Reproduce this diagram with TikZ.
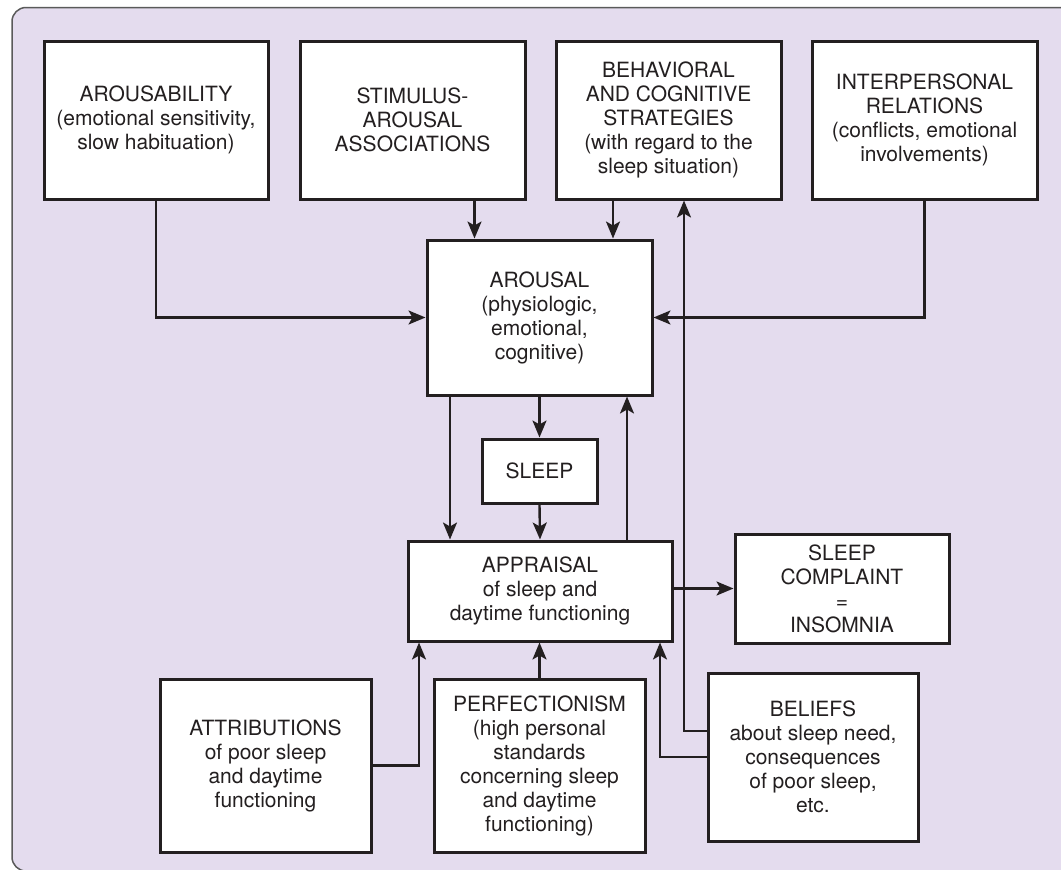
\documentclass[tikz,border=0pt]{standalone}
\usepackage{fontspec}
\setmainfont{TeX Gyre Heros}
\usetikzlibrary{arrows.meta}
\definecolor{bgc}{HTML}{E4DCEE}
\definecolor{ink}{HTML}{231F20}
\definecolor{frame}{HTML}{5A5A5A}
\tikzset{
  box/.style={draw=ink, fill=white, line width=3pt, align=center, inner sep=0pt,
    text=ink, font=\fontsize{21}{24}\selectfont},
  conn/.style={draw=ink, line width=2.4pt, -{Stealth[length=17pt,width=14pt,inset=4pt]}},
}
\begin{document}
\begin{tikzpicture}[x=1pt,y=-1pt]
\useasboundingbox (0,0) rectangle (1061,870);
\clip (0,0) rectangle (1061,870);
\filldraw[fill=bgc, draw=frame, line width=1.5pt, rounded corners=14pt] (12,7.5) rectangle (1090,871);

% top row
\node[box, minimum width=224pt, minimum height=158pt] (arousability) at (156,120)
  {AROUSABILITY\\(emotional sensitivity,\\slow habituation)};
\node[box, minimum width=225pt, minimum height=158pt] (stimulus) at (412.5,120)
  {STIMULUS-\\AROUSAL\\ASSOCIATIONS};
\node[box, minimum width=225pt, minimum height=158pt] (behavioral) at (668.5,120)
  {BEHAVIORAL\\AND COGNITIVE\\STRATEGIES\\(with regard to the\\sleep situation)};
\node[box, minimum width=225pt, minimum height=158pt] (interpersonal) at (924.5,120)
  {INTERPERSONAL\\RELATIONS\\(conflicts, emotional\\involvements)};

% middle
\node[box, minimum width=225pt, minimum height=155pt] (arousal) at (539.5,317.5)
  {AROUSAL\\(physiologic,\\emotional,\\cognitive)};
\node[box, minimum width=115pt, minimum height=64pt] (sleep) at (539.5,471)
  {SLEEP};
\node[box, minimum width=264pt, minimum height=100pt] (appraisal) at (540,591)
  {APPRAISAL\\of sleep and\\daytime functioning};
\node[box, minimum width=214pt, minimum height=109pt] (complaint) at (842,588.5)
  {SLEEP\\COMPLAINT\\=\\INSOMNIA};

% bottom row
\node[box, minimum width=211pt, minimum height=173pt] (attributions) at (265.5,765.5)
  {ATTRIBUTIONS\\of poor sleep\\and daytime\\functioning};
\node[box, minimum width=211pt, minimum height=173pt] (perfectionism) at (539.5,765.5)
  {PERFECTIONISM\\(high personal\\standards\\concerning sleep\\and daytime\\functioning)};
\node[box, minimum width=210pt, minimum height=168pt] (beliefs) at (813,757)
  {BELIEFS\\about sleep need,\\consequences\\of poor sleep,\\etc.};

% connectors
\draw[conn] (arousability.south) |- (arousal.west);
\draw[conn] (interpersonal.south) |- (arousal.east);
\draw[conn] (474.5,0 |- stimulus.south) -- (474.5,0 |- arousal.north);
\draw[conn] (613,0 |- behavioral.south) -- (613,0 |- arousal.north);
\draw[conn] (450,0 |- arousal.south) -- (450,0 |- appraisal.north);
\draw[conn] (arousal.south) -- (sleep.north);
\draw[conn] (sleep.south) -- (appraisal.north);
\draw[conn] (627,0 |- appraisal.north) -- (627,0 |- arousal.south);
\draw[conn] (appraisal.east |- complaint.west) -- (complaint.west);
\draw[conn] (attributions.east) -| (419,0 |- appraisal.south);
\draw[conn] (perfectionism.north) -- (perfectionism.north |- appraisal.south);
\draw[conn] (beliefs.west) -| (660,0 |- appraisal.south);
\draw[conn] (beliefs.west |- 0,731) -| (684,0 |- behavioral.south);
\end{tikzpicture}
\end{document}
